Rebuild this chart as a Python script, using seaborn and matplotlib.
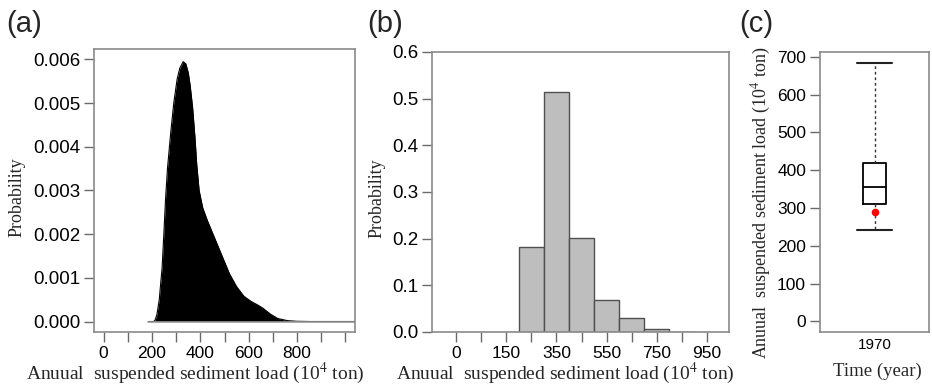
import numpy as np
import pandas as pd
import matplotlib
matplotlib.use("Agg")
import matplotlib.pyplot as plt
import seaborn as sns

# ---------------- data ----------------
# (a) probability density of annual suspended sediment load
dens_x = [185, 205, 212, 220, 230, 242, 249, 256, 264, 277, 290, 304, 315, 329,
          340, 350, 358, 368, 378, 385, 395, 410, 430, 460, 490, 520, 550, 580,
          610, 640, 660, 690, 720, 760, 800, 860, 1100]
dens_y = [0, 0, 0.00002, 0.00015, 0.0005, 0.00125, 0.0020, 0.0028, 0.0035, 0.0043,
          0.0050, 0.00555, 0.0058, 0.00595, 0.0059, 0.0057, 0.0054, 0.0049, 0.0042,
          0.0036, 0.0030, 0.0026, 0.0023, 0.0019, 0.0015, 0.0011, 0.0008, 0.00058,
          0.00046, 0.00037, 0.0003, 0.00017, 0.00007, 0.00002, 0.000005, 0, 0]
dens_xticks = [0, 100, 200, 300, 400, 500, 600, 700, 800, 900, 1000]
dens_xlabels = ["0", "", "200", "", "400", "", "600", "", "800", "", ""]
dens_yticks = [0.000, 0.001, 0.002, 0.003, 0.004, 0.005, 0.006]

# (b) histogram of probabilities
bin_edges = [200, 300, 400, 500, 600, 700, 800, 900]
bin_probs = [0.183, 0.515, 0.201, 0.069, 0.030, 0.007, 0.001]
hist_tick_pos = [-50, 150, 350, 550, 750, 950]
hist_tick_labels = ["0", "150", "350", "550", "750", "950"]
hist_yticks = [0.0, 0.1, 0.2, 0.3, 0.4, 0.5, 0.6]

# (c) box plot: min, Q1, median, Q3, max ; observed value (red dot)
box_year = "1970"
box_values = [242, 312, 356, 418, 685]
observed = [290]
box_yticks = [0, 100, 200, 300, 400, 500, 600, 700]

# ---------------- style ----------------
sns.set_theme(style="white")
plt.rcParams['font.family'] = ['Liberation Sans', 'DejaVu Sans']
plt.rcParams['mathtext.fontset'] = 'stix'

SERIF = ['Liberation Serif', 'DejaVu Serif']
SPINE = '#8a8a8a'
TICKC = '#6a6a6a'

W, H = 932, 385
fig = plt.figure(figsize=(W / 100, H / 100), dpi=100)


def rect(l, t, r, b):
    return [l / W, 1 - b / H, (r - l) / W, (b - t) / H]


def fx(px):
    return px / W


def fy(py):
    return 1 - py / H


axa = fig.add_axes(rect(94, 49, 355, 332))
axb = fig.add_axes(rect(432, 52, 729, 332))
axc = fig.add_axes(rect(820, 52, 929, 332))

for ax in (axa, axb, axc):
    for sp in ax.spines.values():
        sp.set_color(SPINE)
        sp.set_linewidth(1.2)
        sp.set_visible(True)
    ax.grid(False)

xlabel_text = "Anuual  suspended sediment load (10$^{4}$ ton)"

# ---------------- (a) density ----------------
axa.fill_between(dens_x, dens_y, 0, color='black', linewidth=0)
sns.lineplot(x=dens_x, y=dens_y, ax=axa, color='black', linewidth=0.8,
             sort=False, estimator=None)
axa.plot([dens_x[0], dens_x[-1]], [0, 0], color='#9a9a9a', linewidth=1.2)
axa.set_xlim(-40, 1040)
axa.set_ylim(-0.00024, 0.00624)
axa.set_xticks(dens_xticks)
axa.set_xticklabels(dens_xlabels, fontsize=12.5)
axa.set_yticks(dens_yticks)
axa.set_yticklabels([f"{v:.3f}" for v in dens_yticks], fontsize=13.5)
axa.set_xlabel(xlabel_text, fontfamily=SERIF, fontsize=14, va='center', ha='center')
axa.xaxis.set_label_coords(fx(195), fy(373), transform=fig.transFigure)
axa.set_ylabel("Probability", fontfamily=SERIF, fontsize=13, va='center', ha='center')
axa.yaxis.set_label_coords(fx(17), fy(197), transform=fig.transFigure)

# ---------------- (b) histogram ----------------
bin_centers = [(a + b) / 2 for a, b in zip(bin_edges[:-1], bin_edges[1:])]
sns.histplot(x=bin_centers, weights=bin_probs, bins=bin_edges, ax=axb,
             color='#bebebe', edgecolor='#505050', linewidth=1.0, alpha=1)
axb.set_xlim(-146, 1038)
axb.set_ylim(0, 0.6)
axb.set_xticks(hist_tick_pos)
axb.set_xticklabels(hist_tick_labels, fontsize=12.5)
minor = [(a + b) / 2 for a, b in zip(hist_tick_pos[:-1], hist_tick_pos[1:])]
axb.set_xticks(minor, minor=True)
axb.set_yticks(hist_yticks)
axb.set_yticklabels([f"{v:.1f}" for v in hist_yticks], fontsize=13.5)
axb.set_xlabel(xlabel_text, fontfamily=SERIF, fontsize=14, va='center', ha='center')
axb.xaxis.set_label_coords(fx(565), fy(373), transform=fig.transFigure)
axb.set_ylabel("Probability", fontfamily=SERIF, fontsize=13, va='center', ha='center')
axb.yaxis.set_label_coords(fx(377), fy(198), transform=fig.transFigure)

# ---------------- (c) box plot ----------------
df = pd.DataFrame({"year": [box_year] * len(box_values), "load": box_values})
sns.boxplot(data=df, x="year", y="load", ax=axc, whis=(0, 100), width=0.22,
            fill=False, color='black', linewidth=1.3, capwidths=0.32,
            whiskerprops={'linestyle': (0, (2, 2)), 'linewidth': 1.0, 'color': '#333333'},
            capprops={'linewidth': 1.5, 'color': '#222222'},
            medianprops={'linewidth': 1.3, 'color': 'black'})
sns.stripplot(x=[box_year] * len(observed), y=observed, ax=axc, color='red',
              size=5.5, jitter=False, linewidth=0, zorder=5)
axc.set_xlim(-0.5, 0.5)
axc.set_ylim(-28, 713)
axc.set_yticks(box_yticks)
axc.set_yticklabels([str(v) for v in box_yticks], fontsize=12.5)
axc.set_xlabel("Time (year)", fontfamily=SERIF, fontsize=13.5, va='center', ha='center')
axc.xaxis.set_label_coords(fx(877), fy(371), transform=fig.transFigure)
axc.set_ylabel(xlabel_text, fontfamily=SERIF, fontsize=13, va='center', ha='center')
axc.yaxis.set_label_coords(fx(761), fy(203), transform=fig.transFigure)

# tick marks (seaborn "white" style turns them off)
for ax in (axa, axb, axc):
    ax.tick_params(axis='both', which='both', direction='out', length=7, width=1,
                   color=TICKC, labelcolor='black', pad=3,
                   bottom=True, left=True, top=False, right=False)
axc.tick_params(axis='x', length=0, pad=4, labelsize=11)

# ---------------- panel letters ----------------
for px, lab in ((6, "(a)"), (367, "(b)"), (739, "(c)")):
    fig.text(fx(px), fy(23.5), lab, fontsize=21, ha='left', va='center')

fig.savefig("out.png", dpi=100)
